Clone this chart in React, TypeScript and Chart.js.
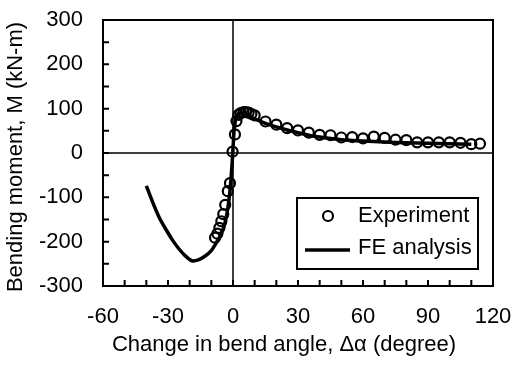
import React, { useEffect, useRef } from 'react';
import { Chart, registerables } from 'chart.js';

Chart.register(...registerables);

const FONT = '"Liberation Sans", Arial, Helvetica, sans-serif';
const FS = 22;

// Experiment (circles)
const expX = [-8.3, -7.2, -6.3, -5.4, -4.5, -3.6, -2.4, -1.4, -0.2, 0.9, 1.6, 2.5, 3.5, 4.8, 6, 7.2, 8.5, 10, 15, 20, 25, 30, 35, 40, 45, 50, 55, 60, 65, 70, 75, 80, 85, 90, 95, 100, 105, 110, 114];
const expY = [-191, -182, -169, -154, -138, -117, -86, -68, 3, 42, 72, 86, 90, 92, 92, 91, 88, 85, 71, 64, 56, 51, 46, 41, 40, 35, 36, 33, 37, 34, 30, 29, 24, 24, 24, 24, 23, 20, 21];

// FE analysis (solid line)
const feX = [-40, -37, -34, -31, -28, -25, -22, -19, -16, -13, -10, -8, -6, -4, -2.5, -1.5, -0.5, 0, 0.5, 1.2, 2, 3, 4.5, 6, 8, 10, 15, 20, 25, 30, 35, 40, 50, 60, 70, 80, 90, 100, 110];
const feY = [-74, -112, -146, -172, -196, -216, -232, -243, -241, -233, -220, -205, -188, -163, -128, -90, -30, 10, 50, 75, 85, 90, 90, 87, 82, 77, 67, 59, 52, 46, 40, 36, 30, 27, 25, 23, 22, 21, 20];

const seriesLabels = ['Experiment', 'FE analysis'];
const xTitle = 'Change in bend angle, \u0394\u03b1 (degree)';
const yTitle = 'Bending moment, M (kN-m)';
const xMin = -60, xMax = 120, xStep = 30, xMinorStep = 10;
const yMin = -300, yMax = 300, yStep = 100, yMinorStep = 50;

const framePlugin = {
  id: 'framePlugin',
  beforeDatasetsDraw(chart: any) {
    const { ctx, chartArea, scales } = chart;
    const { left, right, top, bottom } = chartArea;
    const x0 = scales.x.getPixelForValue(0);
    const y0 = scales.y.getPixelForValue(0);
    ctx.save();
    ctx.strokeStyle = '#000';
    ctx.lineWidth = 1.5;
    ctx.beginPath();
    ctx.moveTo(x0, top);
    ctx.lineTo(x0, bottom);
    ctx.moveTo(left, y0);
    ctx.lineTo(right, y0);
    ctx.stroke();
    ctx.restore();
  },
  afterDraw(chart: any) {
    const { ctx, chartArea, scales } = chart;
    const { left, right, top, bottom } = chartArea;
    ctx.save();
    ctx.strokeStyle = '#000';
    ctx.lineWidth = 2;
    // inward minor ticks
    ctx.beginPath();
    for (let v = xMin + xMinorStep; v < xMax; v += xMinorStep) {
      const px = scales.x.getPixelForValue(v);
      ctx.moveTo(px, bottom);
      ctx.lineTo(px, bottom - 6);
    }
    for (let v = yMin + yMinorStep; v < yMax; v += yMinorStep) {
      const py = scales.y.getPixelForValue(v);
      ctx.moveTo(left, py);
      ctx.lineTo(left + 6, py);
    }
    ctx.stroke();
    // frame
    ctx.strokeRect(left, top, right - left, bottom - top);

    // legend
    const bw = 181, bh = 71;
    const bx = right - 15 - bw;
    const by = bottom - 17 - bh;
    ctx.fillStyle = '#fff';
    ctx.fillRect(bx, by, bw, bh);
    ctx.lineWidth = 2;
    ctx.strokeRect(bx, by, bw, bh);
    ctx.fillStyle = '#000';
    ctx.font = FS + 'px ' + FONT;
    ctx.textBaseline = 'middle';
    ctx.textAlign = 'left';
    const ds = chart.data.datasets;
    // circle entry
    ctx.beginPath();
    ctx.arc(bx + 31, by + 18, 5, 0, Math.PI * 2);
    ctx.lineWidth = 2.2;
    ctx.stroke();
    ctx.fillText(ds[0].label, bx + 61, by + 18);
    // line entry
    ctx.beginPath();
    ctx.lineWidth = 3.5;
    ctx.moveTo(bx + 8, by + 52);
    ctx.lineTo(bx + 53, by + 52);
    ctx.stroke();
    ctx.fillText(ds[1].label, bx + 61, by + 50);

    // axis titles
    ctx.textAlign = 'center';
    ctx.fillText(xTitle, 284, 345);
    ctx.translate(16, 157);
    ctx.rotate(-Math.PI / 2);
    ctx.fillText(yTitle, 0, 0);
    ctx.restore();
  },
};

export default function App() {
  const ref = useRef<HTMLCanvasElement | null>(null);
  useEffect(() => {
    if (!ref.current) return;
    const chart = new Chart(ref.current, {
      type: 'scatter',
      data: {
        datasets: [
          {
            label: seriesLabels[0],
            data: expX.map((x, i) => ({ x, y: expY[i] })),
            pointStyle: 'circle',
            pointRadius: 5,
            pointBorderWidth: 2.2,
            pointBorderColor: '#000',
            pointBackgroundColor: 'transparent',
            showLine: false,
            order: 0,
          },
          {
            label: seriesLabels[1],
            data: feX.map((x, i) => ({ x, y: feY[i] })),
            showLine: true,
            borderColor: '#000',
            borderWidth: 3.5,
            pointRadius: 0,
            tension: 0.2,
            order: 1,
          },
        ],
      },
      options: {
        animation: false,
        responsive: false,
        layout: { padding: { top: 20, right: 21, left: 0, bottom: 0 } },
        plugins: { legend: { display: false }, tooltip: { enabled: false }, title: { display: false } },
        scales: {
          x: {
            type: 'linear',
            min: xMin,
            max: xMax,
            afterFit: (s: any) => {
              s.height = 83;
              s.paddingLeft = 0; s.paddingRight = 0; s.paddingTop = 0; s.paddingBottom = 0;
            },
            grid: { display: false, drawTicks: false },
            border: { display: false },
            ticks: { stepSize: xStep, color: '#000', padding: 18, font: { size: FS, family: FONT } },
          },
          y: {
            type: 'linear',
            min: yMin,
            max: yMax,
            afterFit: (s: any) => {
              s.width = 103;
              s.paddingLeft = 0; s.paddingRight = 0; s.paddingTop = 0; s.paddingBottom = 0;
            },
            grid: { display: false, drawTicks: false },
            border: { display: false },
            ticks: { stepSize: yStep, color: '#000', padding: 20, font: { size: FS, family: FONT } },
          },
        },
      },
      plugins: [framePlugin],
    });
    return () => chart.destroy();
  }, []);
  return (
    <div style={{ position: 'absolute', left: 0, top: 0, width: 514, height: 369, background: '#fff' }}>
      <canvas ref={ref} width={514} height={369} />
    </div>
  );
}
